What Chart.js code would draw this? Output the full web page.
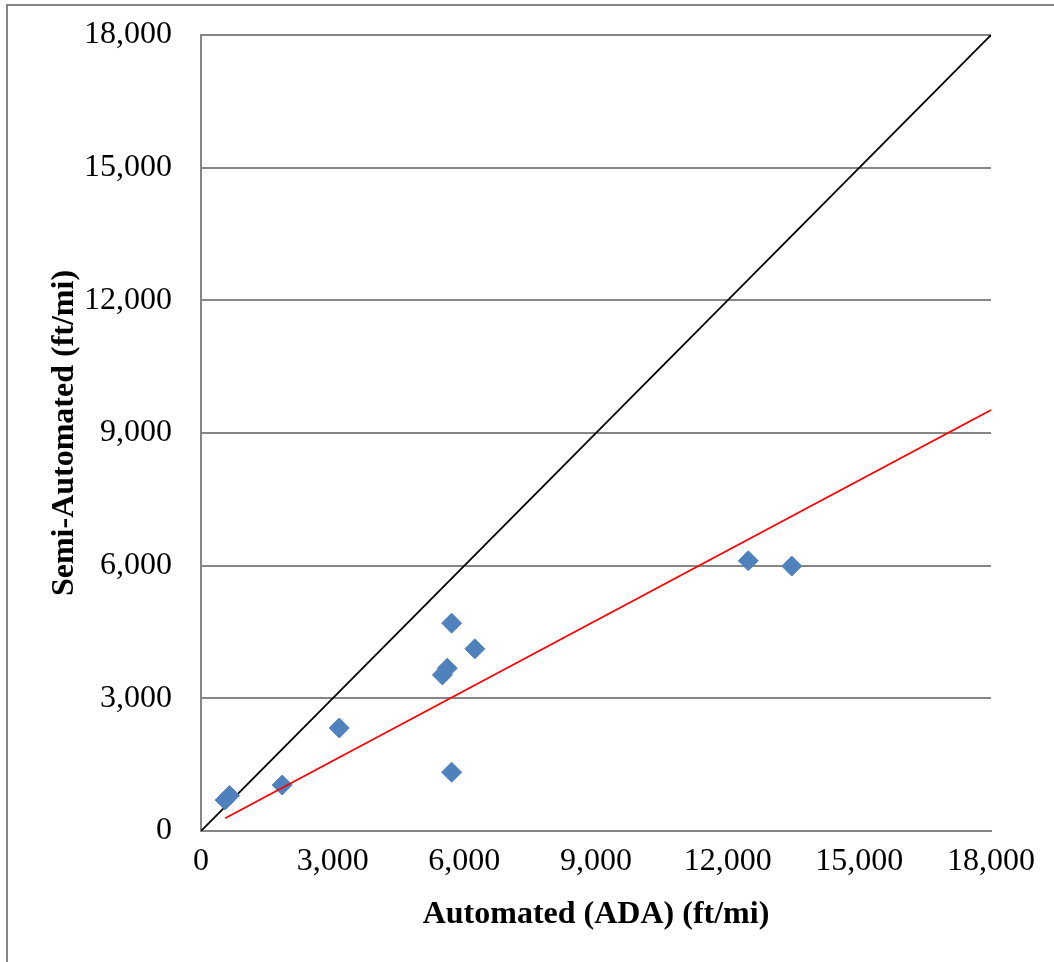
<!DOCTYPE html>
<html>
<head>
<meta charset="utf-8">
<script src="https://cdn.jsdelivr.net/npm/chart.js@4/dist/chart.umd.min.js"></script>
<style>
  html, body { margin: 0; padding: 0; background: #fff; }
  #wrap { position: relative; width: 1054px; height: 962px; }
  #frame { position: absolute; left: 6px; top: 4px; width: 1100px; height: 1000px;
           border-left: 2px solid #868686; border-top: 2px solid #868686; }
  canvas { position: absolute; left: 0; top: 0; }
</style>
</head>
<body>
<div id="wrap">
  <div id="frame"></div>
  <canvas id="scatter" width="1054" height="962"></canvas>
</div>
<script>
// automated (ADA) vs semi-automated, ft/mi
var automated = [550, 650, 1850, 3150, 5500, 5610, 5710, 5710, 6240, 12470, 13460];
var semiAuto  = [700, 800, 1040, 2330, 3530, 3680, 4700, 1330, 4120, 6110, 5990];
var equalityX = [0, 18000];
var trendX = [550, 18000];
var trendY = [290, 9520];
var tickValues = [0, 3000, 6000, 9000, 12000, 15000, 18000];

function pairs(xs, ys) {
  var out = [];
  for (var i = 0; i < xs.length; i++) out.push({ x: xs[i], y: ys[i] });
  return out;
}

window.onload = function() {
  var ctx = document.getElementById('scatter').getContext('2d');
  var font = { family: '"Liberation Serif", "Times New Roman", serif', size: 32 };
  var titleFont = { family: '"Liberation Serif", "Times New Roman", serif', size: 32, weight: 'bold' };

  new Chart(ctx, {
    type: 'scatter',
    data: {
      datasets: [{
        label: 'Observed',
        data: pairs(automated, semiAuto),
        pointStyle: 'rectRot',
        pointRadius: 10,
        backgroundColor: '#4F81BD',
        borderColor: '#4F81BD',
        order: 1
      }, {
        label: '1:1',
        type: 'line',
        data: pairs(equalityX, equalityX),
        borderColor: '#000000',
        borderWidth: 1.8,
        pointRadius: 0,
        order: 2
      }, {
        label: 'Trend',
        type: 'line',
        data: pairs(trendX, trendY),
        borderColor: '#FF0000',
        borderWidth: 1.8,
        pointRadius: 0,
        order: 0
      }]
    },
    options: {
      responsive: false,
      animation: false,
      layout: { padding: { left: 0, top: 35, right: 63, bottom: 0 } },
      plugins: { legend: { display: false }, tooltip: { enabled: false } },
      scales: {
        x: {
          type: 'linear', min: 0, max: 18000,
          afterBuildTicks: function(axis) { axis.ticks = tickValues.map(function(v) { return { value: v }; }); },
          afterFit: function(axis) { axis.height = 131; axis.paddingLeft = 0; axis.paddingRight = 0; },
          grid: { display: false, drawTicks: false },
          border: { color: '#868686', width: 2 },
          ticks: { font: font, color: '#000', padding: 11, maxRotation: 0,
                   callback: function(v) { return v.toLocaleString('en-US'); } },
          title: { display: true, text: 'Automated (ADA) (ft/mi)', font: titleFont, color: '#000',
                   padding: { top: 0, bottom: 28 } }
        },
        y: {
          type: 'linear', min: 0, max: 18000,
          afterBuildTicks: function(axis) { axis.ticks = tickValues.map(function(v) { return { value: v }; }); },
          afterFit: function(axis) { axis.width = 201; axis.paddingTop = 0; axis.paddingBottom = 0; },
          grid: { color: '#868686', lineWidth: 2, drawTicks: false },
          border: { color: '#868686', width: 2 },
          ticks: { font: font, color: '#000', padding: 29,
                   callback: function(v) { return v.toLocaleString('en-US'); } },
          title: { display: true, text: 'Semi-Automated (ft/mi)', font: titleFont, color: '#000',
                   padding: { top: 46, bottom: 0 } }
        }
      }
    }
  });
};
</script>
</body>
</html>
